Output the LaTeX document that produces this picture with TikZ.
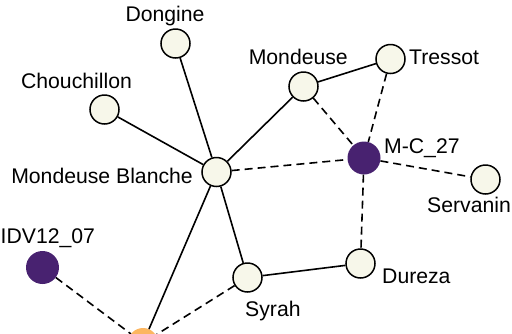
\documentclass[tikz,border=0pt]{standalone}
\usepackage{fontspec}
\setmainfont{Liberation Sans}
\definecolor{nodefill}{RGB}{247,247,234}
\definecolor{purp}{RGB}{72,34,112}
\definecolor{orng}{RGB}{252,182,96}
\begin{document}
\begin{tikzpicture}[x=1pt,y=-1pt,
  wn/.style={circle,draw=black,line width=1.5pt,fill=nodefill,minimum size=29pt,inner sep=0pt},
  pn/.style={circle,fill=purp,minimum size=33pt,inner sep=0pt},
  on/.style={circle,fill=orng,minimum size=30pt,inner sep=0pt},
  lbl/.style={font=\fontsize{21.2}{25}\selectfont,inner sep=0pt},
  sol/.style={line width=1.6pt},
  dsh/.style={line width=1.6pt,dash pattern=on 8pt off 5pt}]
\useasboundingbox (0,0) rectangle (512,333);
\clip (0,0) rectangle (512,333);
% nodes
\node[wn] (dong) at (175.5,43.5) {};
\node[wn] (chou) at (104.5,109.5) {};
\node[wn] (mb) at (216.5,172) {};
\node[wn] (mond) at (303.5,86.5) {};
\node[wn] (tres) at (390.5,59) {};
\node[pn] (mc) at (364,158) {};
\node[wn] (serv) at (485.5,179.5) {};
\node[wn] (dur) at (360.5,263.5) {};
\node[wn] (syr) at (247.5,277.5) {};
\node[pn] (idv) at (42.5,267.5) {};
\node[on] (org) at (143,343) {};
% edges
\draw[sol] (dong) -- (mb);
\draw[sol] (chou) -- (mb);
\draw[sol] (mb) -- (mond);
\draw[sol] (mond) -- (tres);
\draw[sol] (mb) -- (syr);
\draw[sol] (mb) -- (org);
\draw[sol] (syr) -- (dur);
\draw[dsh] (mb) -- (mc);
\draw[dsh] (mond) -- (mc);
\draw[dsh] (tres) -- (mc);
\draw[dsh] (mc) -- (serv);
\draw[dsh] (mc) -- (dur);
\draw[dsh] (syr) -- (org);
\draw[dsh] (idv) -- (org);
% labels
\node[lbl,anchor=base] (ldong) at (165,21) {Dongine};
\node[lbl,anchor=base] (lchou) at (76.5,88) {Chouchillon};
\node[lbl,anchor=base east] (lmb) at (193,183) {Mondeuse Blanche};
\node[lbl,anchor=base east] (lmond) at (348,64) {Mondeuse};
\node[lbl,anchor=base west] (ltres) at (409,64) {Tressot};
\node[lbl,anchor=base west] (lmc) at (384,153) {M-C\_27};
\node[lbl,anchor=base west] (lserv) at (427,212) {Servanin};
\node[lbl,anchor=base west] (ldur) at (382,283) {Dureza};
\node[lbl,anchor=base west] (lsyr) at (245,316) {Syrah};
\node[lbl,anchor=base west] (lidv) at (0.5,243) {IDV12\_07};
\end{tikzpicture}
\end{document}
